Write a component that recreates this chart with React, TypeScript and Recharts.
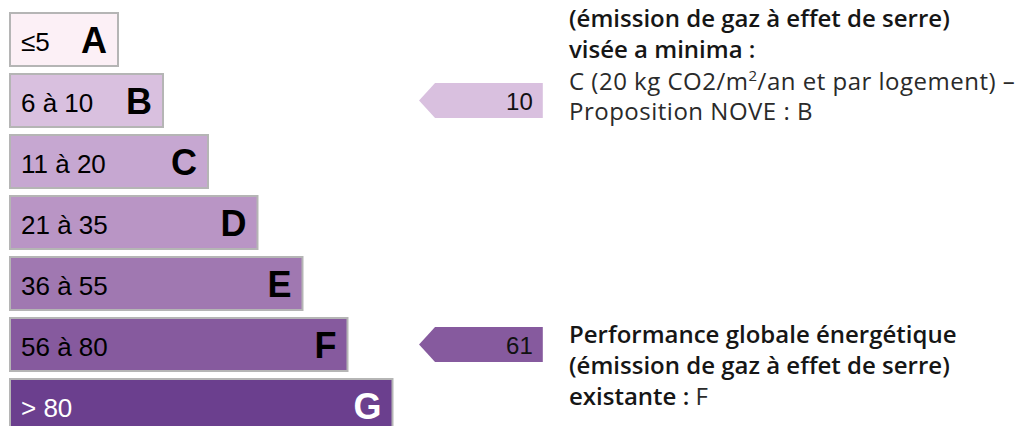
import { BarChart, Bar, XAxis, YAxis, Cell, LabelList } from "recharts";

// classes, range labels and bar lengths (arbitrary units, one step per class)
const classes = ["A", "B", "C", "D", "E", "F", "G"];
const ranges = ["≤5", "6 à 10", "11 à 20", "21 à 35", "36 à 55", "56 à 80", "> 80"];
const barLengths = [2.4, 3.4, 4.4, 5.5, 6.5, 7.5, 8.5];
const fills = ["#fcf0f6", "#d9c0df", "#c6a7d1", "#b995c5", "#a078b1", "#865a9e", "#6b3f8e"];
const textColors = ["#000", "#000", "#000", "#000", "#000", "#000", "#fff"];

// markers: target (B) and existing (F)
const markerClasses = ["B", "F"];
const markerScores = [10, 61];

const ARROW_FROM = 9.09;
const ARROW_TO = 11.84;

const data = classes.map((cls, i) => {
  const m = markerClasses.indexOf(cls);
  return {
    cls,
    range: ranges[i],
    length: barLengths[i],
    score: m >= 0 ? markerScores[m] : null,
  };
});

const RangeLabel = (props: any) => {
  const { x, y, height, value, index } = props;
  return (
    <text
      x={x + 11}
      y={y + height / 2 + 11}
      fontSize={26}
      fontFamily="Liberation Sans, Arial, sans-serif"
      fill={textColors[index]}
    >
      {value}
    </text>
  );
};

const LetterLabel = (props: any) => {
  const { x, y, width, height, value, index } = props;
  return (
    <text
      x={x + width - 11}
      y={y + height / 2 + 13}
      fontSize={36}
      fontWeight="bold"
      textAnchor="end"
      fontFamily="Liberation Sans, Arial, sans-serif"
      fill={textColors[index]}
    >
      {value}
    </text>
  );
};

const ArrowShape = (props: any) => {
  const { x, y, width, height, payload } = props;
  if (width == null || !height) return null;
  const idx = classes.indexOf(payload.cls);
  const cy = y + height / 2;
  const pts = [
    [x, cy],
    [x + 16, y],
    [x + width, y],
    [x + width, y + height],
    [x + 16, y + height],
  ]
    .map((p) => p.join(","))
    .join(" ");
  return <polygon points={pts} fill={fills[idx]} />;
};

const ScoreLabel = (props: any) => {
  const { x, y, width, height, value } = props;
  if (value == null) return null;
  return (
    <text
      x={x + width - 10}
      y={y + height / 2 + 9}
      fontSize={24}
      textAnchor="end"
      fontFamily="Liberation Sans, Arial, sans-serif"
      fill="#111"
    >
      {value}
    </text>
  );
};

const textStyle: React.CSSProperties = {
  position: "absolute",
  left: 569,
  fontFamily: "'Open Sans', sans-serif",
  fontSize: 24,
  lineHeight: "31px",
  color: "#161616",
  whiteSpace: "nowrap",
};

const regular: React.CSSProperties = { letterSpacing: 0.5, color: "#2a2a2a" };

export default function App() {
  return (
    <div style={{ position: "relative", width: 1019, height: 426, overflow: "hidden", background: "#fff" }}>
      <style>{"body{margin:0}"}</style>
      <BarChart
        width={1019}
        height={436}
        data={data}
        layout="vertical"
        margin={{ top: 9, right: 19, left: 10, bottom: 0 }}
      >
        <XAxis type="number" domain={[0, 22]} hide />
        <YAxis yAxisId="main" type="category" dataKey="cls" hide />
        <YAxis yAxisId="arrow" type="category" dataKey="cls" hide />
        <Bar
          yAxisId="main"
          dataKey="length"
          barSize={53}
          stroke="#b5b5b5"
          strokeWidth={2}
          isAnimationActive={false}
        >
          {data.map((d, i) => (
            <Cell key={d.cls} fill={fills[i]} />
          ))}
          <LabelList dataKey="range" content={RangeLabel} />
          <LabelList dataKey="cls" content={LetterLabel} />
        </Bar>
        <Bar
          yAxisId="arrow"
          dataKey={(d: any) => (d.score != null ? [ARROW_FROM, ARROW_TO] : null)}
          barSize={35}
          shape={ArrowShape}
          isAnimationActive={false}
        >
          <LabelList dataKey="score" content={ScoreLabel} />
        </Bar>
      </BarChart>
      <div style={{ ...textStyle, top: 2 }}>
        <div style={{ fontWeight: 600 }}>(émission de gaz à effet de serre)</div>
        <div style={{ fontWeight: 600 }}>visée a minima :</div>
        <div style={{ ...regular, marginTop: 3, lineHeight: "28px" }}>
          C (20 kg CO2/m<sup style={{ fontSize: 15, lineHeight: 0 }}>2</sup>/an et par logement) –
        </div>
        <div style={regular}>Proposition NOVE : B</div>
      </div>
      <div style={{ ...textStyle, top: 318 }}>
        <div style={{ fontWeight: 600 }}>Performance globale énergétique</div>
        <div style={{ fontWeight: 600 }}>(émission de gaz à effet de serre)</div>
        <div>
          <span style={{ fontWeight: 600 }}>existante :</span> <span style={regular}>F</span>
        </div>
      </div>
    </div>
  );
}
